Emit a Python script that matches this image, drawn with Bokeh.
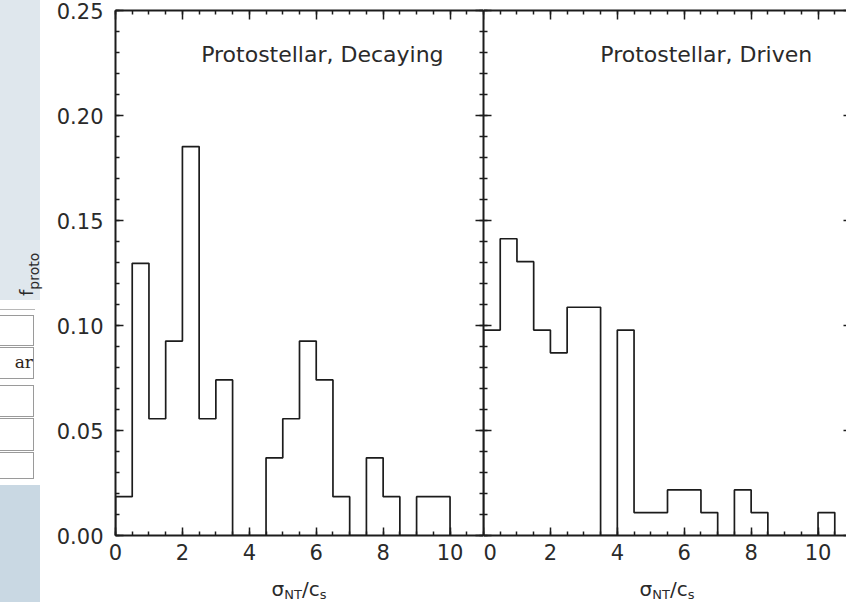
from bokeh.plotting import figure
from bokeh.layouts import row, column
from bokeh.models import (FixedTicker, Range1d, LinearAxis, PrintfTickFormatter,
                          CustomJSTickFormatter, Grid, Div)
from bokeh.core.properties import value
from bokeh.embed import file_html
from bokeh.resources import INLINE

# ---------------- data ----------------
bin_width = 0.5
decaying_fraction = [0.0185, 0.1296, 0.0556, 0.0926, 0.1852, 0.0556, 0.0741, 0.0, 0.0,
                     0.0370, 0.0556, 0.0926, 0.0741, 0.0185, 0.0, 0.0370, 0.0185, 0.0,
                     0.0185, 0.0185]
driven_fraction = [0.0978, 0.1413, 0.1304, 0.0978, 0.0870, 0.1087, 0.1087, 0.0, 0.0978,
                   0.0109, 0.0109, 0.0217, 0.0217, 0.0109, 0.0, 0.0217, 0.0109, 0.0,
                   0.0, 0.0, 0.0109]
panel_titles = ["Protostellar, Decaying", "Protostellar, Driven"]
x_major_ticks = [0, 2, 4, 6, 8, 10]
x_minor_ticks = [i * 0.5 for i in range(0, 23)]
y_major_ticks = [0.0, 0.05, 0.10, 0.15, 0.20, 0.25]
y_minor_ticks = [i * 0.01 for i in range(0, 26)]

INK = "#1c1c1c"
TXT = "#2a2a2a"
FONT = "DejaVu Sans"

# ---------------- geometry (pixels) ----------------
LEFT_STRIP = 50          # fragment of neighbouring page + y label
AXIS_BORDER = 65         # room for y tick labels
FRAME_H = 525
TOP_B = 10
BOTTOM_B = 35
PX_PER_UNIT = 368 / 11.0
RIGHT_FRAME_W = 363
XLABEL_H = 32


def step_path(values, width):
    xs, ys = [0.0], [0.0]
    for i, v in enumerate(values):
        xs += [i * width, (i + 1) * width]
        ys += [v, v]
    xs.append(len(values) * width)
    ys.append(0.0)
    return xs, ys


def style_axis(ax, labels, fmt, major_in=8, minor_in=4):
    ax.axis_line_color = INK
    ax.axis_line_width = 2
    ax.major_tick_line_color = INK
    ax.minor_tick_line_color = INK
    ax.major_tick_line_width = 1.5
    ax.minor_tick_line_width = 1.5
    ax.major_tick_in = major_in
    ax.major_tick_out = 0
    ax.minor_tick_in = minor_in
    ax.minor_tick_out = 0
    if labels:
        ax.major_label_text_font = FONT
        ax.major_label_text_font_size = "21px"
        ax.major_label_text_color = TXT
        ax.formatter = PrintfTickFormatter(format=fmt)
    else:
        ax.formatter = CustomJSTickFormatter(code="return ''")
        ax.major_label_standoff = 0


def x_axis(labels):
    ax = LinearAxis(ticker=FixedTicker(ticks=x_major_ticks, minor_ticks=x_minor_ticks))
    style_axis(ax, labels, "%d")
    if labels:
        ax.major_label_standoff = 8
    return ax


def y_axis(labels):
    ax = LinearAxis(ticker=FixedTicker(ticks=y_major_ticks, minor_ticks=y_minor_ticks))
    style_axis(ax, labels, "%.2f")
    if labels:
        ax.major_label_standoff = 12
    return ax


def panel(values, title, frame_w, x_end, first, title_x):
    p = figure(frame_width=frame_w, frame_height=FRAME_H,
               x_range=Range1d(0, x_end), y_range=Range1d(0, 0.25),
               x_axis_location=None, y_axis_location=None,
               output_backend="svg", toolbar_location=None,
               min_border_left=AXIS_BORDER if first else 0, min_border_right=0,
               min_border_top=TOP_B, min_border_bottom=BOTTOM_B)
    for g in p.select(type=Grid):
        g.visible = False
    p.outline_line_color = None
    p.background_fill_color = "white"
    p.border_fill_color = "white"
    p.add_layout(x_axis(True), "below")
    top = x_axis(False)
    top.major_tick_in = 9
    p.add_layout(top, "above")
    p.add_layout(y_axis(first), "left")
    right = y_axis(False)
    if not first:
        # the right edge of this panel is cut off in the picture: only tick stubs show
        right.axis_line_color = None
        right.major_tick_in = 3
        right.minor_tick_in = 0
    p.add_layout(right, "right")
    xs, ys = step_path(values, bin_width)
    p.line(xs, ys, line_color=INK, line_width=1.7)
    p.text(x=[title_x], y=[0.229], text=[title], text_font=value(FONT),
           text_font_size="22px", text_color=TXT, text_baseline="alphabetic",
           text_align="left")
    return p


p1 = panel(decaying_fraction, panel_titles[0], 368, 11.0, True, 2.56)
p2 = panel(driven_fraction, panel_titles[1], RIGHT_FRAME_W, RIGHT_FRAME_W / PX_PER_UNIT, False, 3.49)

# ---- left strip: fragment of the neighbouring page + y-axis label ----
H_TOTAL = TOP_B + FRAME_H + BOTTOM_B + XLABEL_H
rows_html = ""
for top_px, bot_px in [(315, 347), (347, 380), (385, 418), (418, 452), (452, 480)]:
    rows_html += (f"<div style='position:absolute;left:-2px;top:{top_px}px;width:36px;"
                  f"height:{bot_px - top_px - 1}px;border:1px solid #9a9a9a;background:#fff'></div>")
strip_html = (
    f"<div style='position:relative;width:{LEFT_STRIP}px;height:{H_TOTAL}px;overflow:hidden;background:#fff'>"
    "<div style='position:absolute;left:0;top:0;width:40px;height:300px;background:#dfe7ed'></div>"
    "<div style='position:absolute;left:0;top:309px;width:35px;height:0;border-top:1.5px solid #b8b8b8'></div>"
    + rows_html +
    "<div style=\"position:absolute;right:17px;top:352px;font-family:'DejaVu Serif';font-size:17px;"
    "line-height:20px;color:#2e2418\">ar</div>"
    f"<div style='position:absolute;left:0;top:485px;width:40px;height:{H_TOTAL - 485}px;background:#c9d8e3'></div>"
    f"<div style=\"position:absolute;left:18px;top:296px;white-space:nowrap;font-family:'{FONT}';"
    f"font-size:18px;line-height:18px;color:{TXT};transform:rotate(-90deg);transform-origin:0 0\">"
    "f<span style='font-size:14px;vertical-align:-6px'>proto</span></div>"
    "</div>"
)
strip = Div(text=strip_html, width=LEFT_STRIP, height=H_TOTAL, margin=0)

# ---- x-axis labels (sigma_NT / c_s) under each panel ----
W_PANELS = AXIS_BORDER + 368 + RIGHT_FRAME_W
centers = [AXIS_BORDER + 5.5 * PX_PER_UNIT, AXIS_BORDER + 368 + 5.5 * PX_PER_UNIT]
label_html = ""
for c in centers:
    label_html += (
        f"<div style=\"position:absolute;left:{c - 100:.1f}px;top:9px;width:200px;text-align:center;"
        f"white-space:nowrap;font-family:'{FONT}';font-size:20px;line-height:20px;color:{TXT}\">"
        "σ<span style='font-size:13px;vertical-align:-3px'>NT</span>/c"
        "<span style='font-size:13px;vertical-align:-3px'>s</span></div>")
xlab = Div(text=f"<div style='position:relative;width:{W_PANELS}px;height:{XLABEL_H}px;overflow:hidden'>"
                + label_html + "</div>", width=W_PANELS, height=XLABEL_H, margin=0)

layout = row(strip, column(row(p1, p2), xlab))
open("out.html", "w").write(file_html(layout, INLINE))
